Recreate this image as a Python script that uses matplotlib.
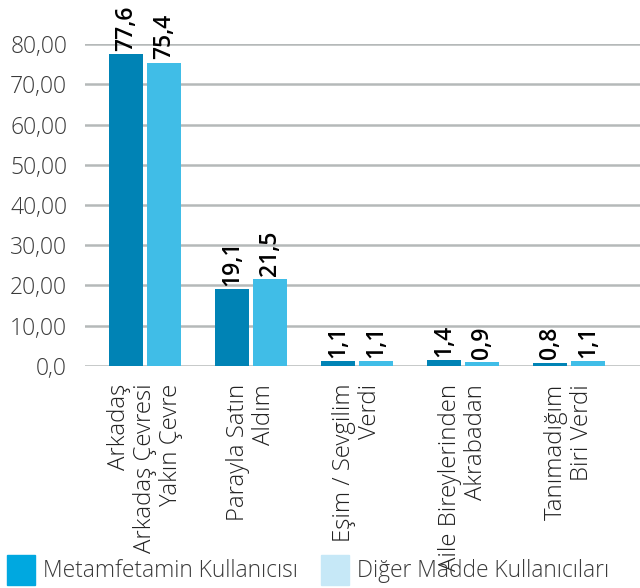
import numpy as np
import matplotlib.pyplot as plt
from matplotlib.patches import Patch

plt.rcParams['font.family'] = ['Open Sans', 'DejaVu Sans']

categories = ["Arkadaş\nArkadaş Çevresi\nYakın Çevre",
              "Parayla Satın\nAldım",
              "Eşim / Sevgilim\nVerdi",
              "Aile Bireylerinden\nAkrabadan",
              "Tanımadığım\nBiri Verdi"]
metamfetamin = [77.6, 19.1, 1.1, 1.4, 0.8]
diger = [75.4, 21.5, 1.1, 0.9, 1.1]
series_names = ["Metamfetamin Kullanıcısı", "Diğer Madde Kullanıcıları"]
yticks = [0, 10, 20, 30, 40, 50, 60, 70, 80]
ytick_labels = ["0,0", "10,00", "20,00", "30,00", "40,00", "50,00", "60,00", "70,00", "80,00"]

dark = "#0083b5"
light = "#40bde7"

fig = plt.figure(figsize=(6.4, 5.88), dpi=100)
ax = fig.add_axes([0.133, 0.378, 0.867, 0.547])

x = np.arange(len(categories))
w = 0.32
b1 = ax.bar(x - w / 2 - 0.02, metamfetamin, w, color=dark, zorder=3)
b2 = ax.bar(x + w / 2 + 0.02, diger, w, color=light, zorder=3)

for bars, vals in [(b1, metamfetamin), (b2, diger)]:
    for r, v in zip(bars, vals):
        ax.text(r.get_x() + r.get_width() / 2, r.get_height() + 0.8,
                f"{v:.1f}".replace(".", ","), rotation=90, ha="center", va="bottom",
                fontsize=16.5, fontweight="semibold", color="black", clip_on=False)

ax.set_ylim(0, 80)
ax.set_xlim(-0.566, 4.67)
ax.set_yticks(yticks)
ax.set_yticklabels(ytick_labels, fontsize=16.5, color="#3a3a3a", fontweight="light")
ax.yaxis.grid(True, color="#b5b9b9", linewidth=1.8, zorder=0)
ax.tick_params(axis="y", length=0, pad=13)
ax.set_xticks(x)
ax.set_xticklabels(categories, rotation=90, fontsize=17.3, color="#222222",
                   fontweight="light", multialignment="right", va="top", ha="center",
                   linespacing=1.1)
ax.tick_params(axis="x", length=0, pad=13)
for s in ax.spines.values():
    s.set_visible(False)

handles = [Patch(color="#00a8e0"), Patch(color="#c6e8f7")]
leg = fig.legend(handles, series_names, loc="lower left", bbox_to_anchor=(0.005, 0.0),
                 ncol=2, frameon=False, handlelength=1.25, handleheight=1.6,
                 handletextpad=0.35, columnspacing=1.0, borderaxespad=0.0, borderpad=0.15,
                 labelcolor="#3a3a3a", prop={"weight": "light", "size": 16.4})

fig.savefig("out.png", dpi=100)
